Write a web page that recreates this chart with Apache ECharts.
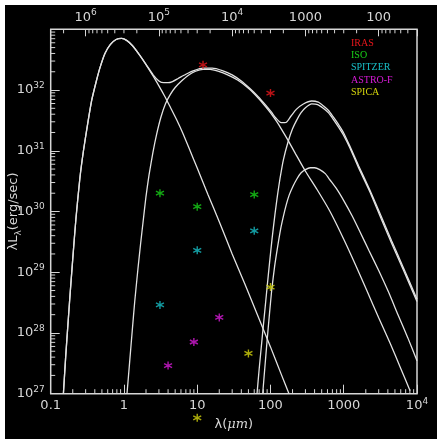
<!DOCTYPE html>
<html><head><meta charset="utf-8">
<script src="https://cdn.jsdelivr.net/npm/echarts@6/dist/echarts.min.js"></script>
<style>
html,body{margin:0;padding:0;background:#ffffff;}
#c{position:absolute;left:5px;top:5px;width:432px;height:434px;background:#000;}
</style></head><body><div id="c"></div>
<script>
// ---- curves: [wavelength (micron), lambda L_lambda (erg/s)] ----
const starCurve = [[0.149,1.0e27],[0.16,4.0e27],[0.172,1.4e28],[0.183,4.0e28],[0.2,1.66e29],[0.221,7.6e29],[0.25,3.5e30],[0.28,1.0e31],[0.32,2.8e31],[0.363,6.8e31],[0.42,1.41e32],[0.471,2.34e32],[0.55,4.0e32],[0.65,5.6e32],[0.78,6.8e32],[0.93,7.1e32],[1.1,6.5e32],[1.3,5.4e32],[1.6,3.9e32],[2.0,2.63e32],[2.5,1.7e32],[3.0,1.17e32],[3.6,7.9e31],[4.3,5.2e31],[5.2,3.3e31],[6.3,2.0e31],[8.0,1.0e31],[10,5.2e30],[14,1.9e30],[20,6.8e29],[30,2.0e29],[45,6.3e28],[70,1.7e28],[100,5.9e27],[140,2.1e27],[179,1.0e27]];
const warmDustCurve = [[1.1,1.0e27],[1.2,3.5e27],[1.3,1.12e28],[1.4,3.2e28],[1.55,1.12e29],[1.7,3.2e29],[1.82,6.6e29],[2.0,1.78e30],[2.2,4.0e30],[2.49,9.5e30],[2.8,1.9e31],[3.2,3.6e31],[3.7,6.0e31],[4.3,8.5e31],[5.0,1.1e32],[6.0,1.38e32],[7.5,1.74e32],[9.5,2.04e32],[12,2.19e32],[15,2.19e32],[19.2,2.04e32],[26,1.78e32],[36,1.45e32],[50,1.07e32],[68,7.4e31],[85,5.4e31],[102,4.1e31],[120,3.1e31],[139,2.34e31],[174,1.48e31],[220,8.9e30],[300,4.6e30],[432,2.3e30],[650,1.0e30],[1000,3.5e29],[1450,1.32e29],[2080,4.9e28],[3000,1.78e28],[4270,6.9e27],[6000,2.6e27],[8040,1.12e27]];
const coldDustCurve = [[65.5,1.0e27],[70,2.5e27],[77,8.3e27],[83,2.1e28],[89.7,5.5e28],[97,1.41e29],[105,3.5e29],[115,8.9e29],[125,1.9e30],[135,3.5e30],[150,7.1e30],[174,1.41e31],[200,2.3e31],[228,3.2e31],[260,4.2e31],[300,5.1e31],[366,5.9e31],[440,5.75e31],[525,5.0e31],[620,4.2e31],[720,3.3e31],[850,2.45e31],[990,1.82e31],[1220,1.1e31],[1600,5.2e30],[2280,2.1e30],[3200,7.9e29],[4500,3.0e29],[6500,1.1e29],[10000,3.3e28]];
const faintDustCurve = [[78.3,1.0e27],[84,2.8e27],[90,7.6e27],[97,2.1e28],[104,5.1e28],[114,1.26e29],[125,2.6e29],[137,5.0e29],[150,8.3e29],[165,1.32e30],[180,1.86e30],[203,2.6e30],[228,3.4e30],[260,4.3e30],[300,4.9e30],[350,5.25e30],[400,5.25e30],[470,4.9e30],[560,4.2e30],[650,3.3e30],[800,2.35e30],[1000,1.51e30],[1300,8.5e29],[1670,4.6e29],[2200,2.3e29],[3000,1.07e29],[4060,4.8e28],[5500,2.0e28],[7500,8.3e27],[10000,3.5e27]];
const totalCurve = [[0.149,1.0e27],[0.16,4.0e27],[0.172,1.4e28],[0.183,4.0e28],[0.2,1.66e29],[0.221,7.6e29],[0.25,3.5e30],[0.28,1.0e31],[0.32,2.8e31],[0.363,6.8e31],[0.42,1.41e32],[0.471,2.34e32],[0.55,4.0e32],[0.65,5.6e32],[0.78,6.8e32],[0.93,7.1e32],[1.1,6.5e32],[1.3,5.4e32],[1.6,3.9e32],[2.0,2.65e32],[2.5,1.78e32],[3.0,1.41e32],[3.5,1.32e32],[4.0,1.32e32],[4.6,1.38e32],[5.5,1.55e32],[7.0,1.82e32],[9.0,2.09e32],[12,2.29e32],[16,2.29e32],[22,2.09e32],[30,1.78e32],[40,1.41e32],[52,1.07e32],[68,7.8e31],[85,5.75e31],[102,4.4e31],[120,3.4e31],[140,2.9e31],[165,2.95e31],[190,3.7e31],[225,4.8e31],[281,5.9e31],[366,6.6e31],[450,6.3e31],[525,5.5e31],[620,4.6e31],[720,3.6e31],[850,2.7e31],[990,2.0e31],[1220,1.17e31],[1600,5.6e30],[2280,2.24e30],[3200,8.7e29],[4500,3.3e29],[6500,1.2e29],[10000,3.6e28]];

// ---- instrument points ----
const irasPts    = [[12,2.6e32],[100,8.9e31]];
const isoPts     = [[3.1,2.0e30],[10,1.2e30],[60,1.9e30]];
const spitzerPts = [[3.1,2.9e28],[10,2.3e29],[60,4.8e29]];
const astrofPts  = [[4,2.9e27],[9,7.1e27],[20,1.8e28]];
const spicaPts   = [[10,4.0e26],[50,4.6e27],[100,5.7e28]];

const instNames  = ['IRAS','ISO','SPITZER','ASTRO-F','SPICA'];
const instColors = ['#e8161b','#18d018','#18c0c8','#d81ad8','#d4d40c'];

// ---- axis ranges & minor tick positions ----
const lamRange = [0.1, 1e4];
const lumRange = [1e27, 1e33];
const nuRange  = [29.98, 2.998e6];   // GHz, matching lamRange
const lamMinor = [0.2,0.3,0.4,0.5,0.6,0.7,0.8,0.9,2,3,4,5,6,7,8,9,20,30,40,50,60,70,80,90,200,300,400,500,600,700,800,900,2000,3000,4000,5000,6000,7000,8000,9000];
const lumMinor = [2e27,3e27,4e27,5e27,6e27,7e27,8e27,9e27,2e28,3e28,4e28,5e28,6e28,7e28,8e28,9e28,2e29,3e29,4e29,5e29,6e29,7e29,8e29,9e29,2e30,3e30,4e30,5e30,6e30,7e30,8e30,9e30,2e31,3e31,4e31,5e31,6e31,7e31,8e31,9e31,2e32,3e32,4e32,5e32,6e32,7e32,8e32,9e32];
const nuMinor  = [40,50,60,70,80,90,200,300,400,500,600,700,800,900,2000,3000,4000,5000,6000,7000,8000,9000,2e4,3e4,4e4,5e4,6e4,7e4,8e4,9e4,2e5,3e5,4e5,5e5,6e5,7e5,8e5,9e5,2e6];

const AX = '#d6d6d6';
const LINE = '#e2e2e2';
const asterisk = 'path://M5 0L5 10M0.67 2.5L9.33 7.5M0.67 7.5L9.33 2.5';

const rich = {
  b: {fontFamily:'DejaVu Sans', fontSize:13, lineHeight:18, color:AX},
  sup: {fontFamily:'DejaVu Sans', fontSize:9, lineHeight:9, verticalAlign:'top', color:AX}
};
function isPow10(v){ const e = Math.log10(v); return Math.abs(e-Math.round(e)) < 1e-6; }
function expOf(v){ return Math.round(Math.log10(v)); }

function bottomFmt(v){
  const e = expOf(v);
  if (e >= 4) return '{b|10}{sup|' + e + '}';
  if (e < 0) return '{b|0.1}';
  return '{b|' + Math.pow(10,e) + '}';
}
function topFmt(v){
  if (!isPow10(v)) return '';
  const e = expOf(v);
  if (e >= 4) return '{b|10}{sup|' + e + '}';
  return '{b|' + Math.pow(10,e) + '}';
}
function leftFmt(v){ return '{b|10}{sup|' + expOf(v) + '}'; }

function tickSeries(values, axis, len){
  let data, xIdx = 0;
  if (axis === 'bottom') data = values.map(v => [v, lumRange[0]]);
  else if (axis === 'left') data = values.map(v => [lamRange[0], v]);
  else { data = values.map(v => [v, lumRange[1]]); xIdx = 1; }
  return {
    type:'custom', xAxisIndex:xIdx, yAxisIndex:0, silent:true, z:6,
    data: data,
    renderItem: function(params, api){
      const p = api.coord([api.value(0), api.value(1)]);
      let s;
      if (axis === 'bottom') s = {x1:p[0], y1:p[1], x2:p[0], y2:p[1]-len};
      else if (axis === 'left') s = {x1:p[0], y1:p[1], x2:p[0]+len, y2:p[1]};
      else s = {x1:p[0], y1:p[1], x2:p[0], y2:p[1]+len};
      return {type:'line', shape:s, style:{stroke:AX, lineWidth:1}};
    }
  };
}

function curve(d){
  return {type:'line', data:d, showSymbol:false, smooth:0.2, silent:true, z:3,
          lineStyle:{color:LINE, width:1.3}};
}
function points(name, d, color){
  return {type:'scatter', name:name, data:d, symbol:asterisk, symbolSize:8, clip:false, z:8,
          itemStyle:{color:color, borderColor:color, borderWidth:1.4}};
}

const chart = echarts.init(document.getElementById('c'));
chart.setOption({
  backgroundColor:'#000',
  animation:false,
  grid:{left:45.7, right:20, top:24.3, bottom:45.3, show:true, borderColor:AX, borderWidth:1.5,
        backgroundColor:'transparent', outerBoundsMode:'none'},
  legend:{orient:'vertical', left:341, top:32, padding:0, itemWidth:0, itemHeight:12, itemGap:0.3,
          selectedMode:false, icon:'rect', itemStyle:{opacity:0, borderWidth:0},
          textStyle:{fontFamily:'Liberation Serif', fontSize:10, lineHeight:12},
          data: instNames.map((n,i) => ({name:n, textStyle:{color:instColors[i]}}))},
  xAxis:[
    {type:'log', position:'bottom', min:lamRange[0], max:lamRange[1], splitNumber:5,
     axisLine:{show:false}, splitLine:{show:false},
     axisTick:{inside:true, length:9, lineStyle:{color:AX}},
     axisLabel:{margin:3, formatter:bottomFmt, rich:rich},
     name:'{n|λ(}{i|μm}{n|)}', nameLocation:'middle', nameGap:22, nameMoveOverlap:false,
     nameTextStyle:{rich:{n:{fontFamily:'DejaVu Sans', fontSize:13, lineHeight:18, color:AX},
                          i:{fontFamily:'DejaVu Serif', fontStyle:'italic', fontSize:13, lineHeight:18, color:AX}}}},
    {type:'log', position:'top', inverse:true, min:nuRange[0], max:nuRange[1], splitNumber:5,
     axisLine:{show:false}, splitLine:{show:false},
     axisTick:{inside:true, length:7, lineStyle:{color:AX}},
     axisLabel:{margin:3, formatter:topFmt, rich:rich, showMinLabel:true, showMaxLabel:true}}
  ],
  yAxis:[
    {type:'log', min:lumRange[0], max:lumRange[1], splitNumber:6,
     axisLine:{show:false}, splitLine:{show:false},
     axisTick:{inside:true, length:9, lineStyle:{color:AX}},
     axisLabel:{margin:6, formatter:leftFmt, rich:rich, showMaxLabel:false},
     name:'{a|λL}{s|λ}{a|(erg/sec)}', nameLocation:'middle', nameGap:28, nameMoveOverlap:false,
     nameTextStyle:{rich:{a:{fontFamily:'DejaVu Sans', fontSize:13, lineHeight:18, color:AX},
                          s:{fontFamily:'DejaVu Sans', fontSize:9, lineHeight:9, verticalAlign:'bottom', color:AX}}}}
  ],
  series:[
    curve(starCurve), curve(warmDustCurve), curve(coldDustCurve), curve(faintDustCurve), curve(totalCurve),
    points('IRAS', irasPts, instColors[0]),
    points('ISO', isoPts, instColors[1]),
    points('SPITZER', spitzerPts, instColors[2]),
    points('ASTRO-F', astrofPts, instColors[3]),
    points('SPICA', spicaPts, instColors[4]),
    tickSeries(lamMinor, 'bottom', 4.5),
    tickSeries(lumMinor, 'left', 4.5),
    tickSeries(nuMinor, 'top', 4)
  ]
});
</script>
</body></html>
